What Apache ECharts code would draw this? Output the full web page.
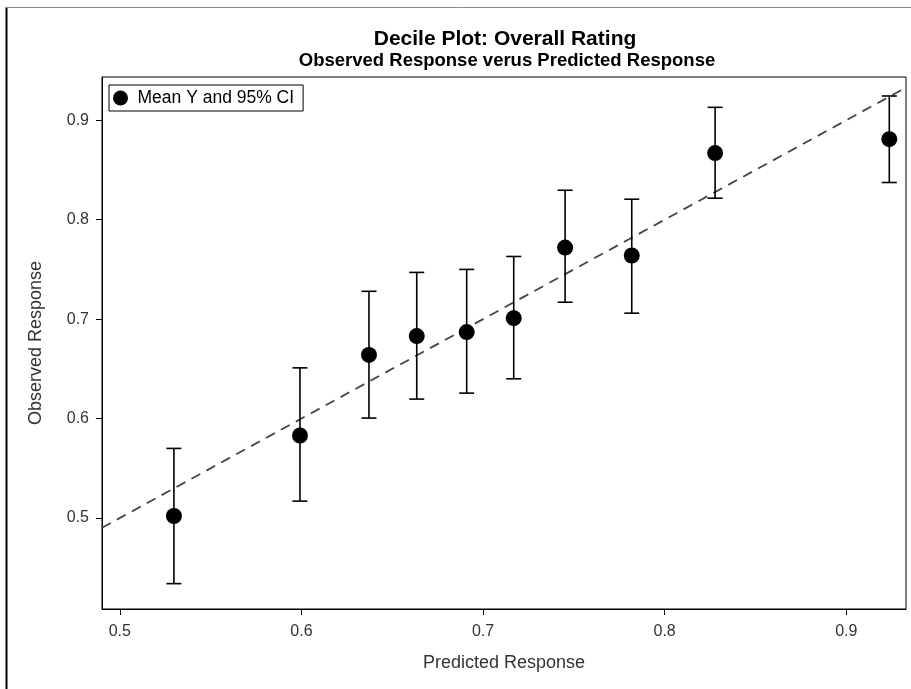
<!DOCTYPE html>
<html>
<head>
<meta charset="utf-8">
<script src="https://cdn.jsdelivr.net/npm/echarts@6/dist/echarts.min.js"></script>
<style>
html,body{margin:0;padding:0;background:#fff;}
#chart{width:911px;height:689px;}
</style>
</head>
<body>
<div id="chart"></div>
<script>
// Data
var predicted = [0.5298, 0.5992, 0.6372, 0.6635, 0.6910, 0.7169, 0.7452, 0.7819, 0.8278, 0.9237];
var observed  = [0.502, 0.583, 0.664, 0.683, 0.687, 0.701, 0.772, 0.764, 0.867, 0.881];
var lowerCI   = [0.434, 0.517, 0.6005, 0.6196, 0.6256, 0.640, 0.717, 0.706, 0.8216, 0.8374];
var upperCI   = [0.570, 0.651, 0.728, 0.747, 0.750, 0.763, 0.8296, 0.8206, 0.913, 0.9244];
var xTicks = [0.5, 0.6, 0.7, 0.8, 0.9];
var yTicks = [0.5, 0.6, 0.7, 0.8, 0.9];
var xRange = [0.4902, 0.9329];
var yRange = [0.4085, 0.9435];
var refLine = [[xRange[0], xRange[0]], [xRange[1], xRange[1]]];

var FONT = 'Liberation Sans, Arial, sans-serif';
var scatterData = predicted.map(function (x, i) { return [x, observed[i]]; });
var ciData = predicted.map(function (x, i) { return [x, lowerCI[i], upperCI[i]]; });

var chart = echarts.init(document.getElementById('chart'), null, {renderer: 'canvas'});
chart.setOption({
  animation: false,
  backgroundColor: '#fff',
  textStyle: {fontFamily: FONT},
  title: [{
    text: 'Decile Plot: Overall Rating',
    left: 505, top: 29, textAlign: 'center', padding: 0,
    textStyle: {fontFamily: FONT, fontSize: 21, fontWeight: 'bold', color: '#000'}
  }, {
    text: 'Observed Response verus Predicted Response',
    left: 507, top: 51, textAlign: 'center', padding: 0,
    textStyle: {fontFamily: FONT, fontSize: 18.5, fontWeight: 'bold', color: '#000'}
  }],
  legend: {
    left: 109, top: 85,
    orient: 'horizontal',
    data: [{name: 'Mean Y and 95% CI', icon: 'circle'}],
    borderColor: '#000', borderWidth: 1, borderRadius: 0,
    padding: [4, 9, 4, 4],
    itemWidth: 24, itemHeight: 15, itemGap: 6,
    textStyle: {fontFamily: FONT, fontSize: 17.5, color: '#000'}
  },
  grid: {
    left: 102, right: 5, top: 77, bottom: 80,
    show: true, borderColor: '#000', borderWidth: 1, backgroundColor: 'transparent'
  },
  xAxis: {
    type: 'value', min: xRange[0], max: xRange[1],
    name: 'Predicted Response', nameLocation: 'middle', nameGap: 45,
    nameTextStyle: {fontFamily: FONT, fontSize: 18, color: '#333'},
    axisLine: {show: true, lineStyle: {color: '#000', width: 1}},
    axisTick: {show: true, length: 6, customValues: xTicks, lineStyle: {color: '#000'}},
    axisLabel: {customValues: xTicks, fontFamily: FONT, fontSize: 16, color: '#333', margin: 15,
      formatter: function (v) { return v.toFixed(1); }},
    splitLine: {show: false}
  },
  yAxis: {
    type: 'value', min: yRange[0], max: yRange[1],
    name: 'Observed Response', nameLocation: 'middle', nameGap: 57,
    nameTextStyle: {fontFamily: FONT, fontSize: 18, color: '#333'},
    axisLine: {show: true, lineStyle: {color: '#000', width: 1}},
    axisTick: {show: true, length: 6, customValues: yTicks, lineStyle: {color: '#000'}},
    axisLabel: {customValues: yTicks, fontFamily: FONT, fontSize: 16, color: '#333', margin: 13,
      formatter: function (v) { return v.toFixed(1); }},
    splitLine: {show: false}
  },
  graphic: [
    {type: 'line', shape: {x1: 6.5, y1: 7, x2: 6.5, y2: 689}, style: {stroke: '#000', lineWidth: 2}, silent: true},
    {type: 'line', shape: {x1: 6, y1: 7.5, x2: 911, y2: 7.5}, style: {stroke: '#888', lineWidth: 1}, silent: true}
  ],
  series: [{
    type: 'line', name: 'ref', data: refLine, symbol: 'none', silent: true,
    lineStyle: {color: '#444', width: 1.8, type: [10, 7]}, z: 1
  }, {
    type: 'custom', name: 'ci', data: ciData, silent: true, z: 2,
    renderItem: function (params, api) {
      var x = api.value(0);
      var lo = api.coord([x, api.value(1)]);
      var hi = api.coord([x, api.value(2)]);
      var half = 7.5;
      var style = {stroke: '#000', lineWidth: 1.6, fill: null};
      return {type: 'group', children: [
        {type: 'line', shape: {x1: lo[0], y1: lo[1], x2: hi[0], y2: hi[1]}, style: style},
        {type: 'line', shape: {x1: lo[0] - half, y1: lo[1], x2: lo[0] + half, y2: lo[1]}, style: style},
        {type: 'line', shape: {x1: hi[0] - half, y1: hi[1], x2: hi[0] + half, y2: hi[1]}, style: style}
      ]};
    }
  }, {
    type: 'scatter', name: 'Mean Y and 95% CI', data: scatterData,
    symbol: 'circle', symbolSize: 16, z: 3,
    itemStyle: {color: '#000', opacity: 1}
  }]
});
</script>
</body>
</html>
